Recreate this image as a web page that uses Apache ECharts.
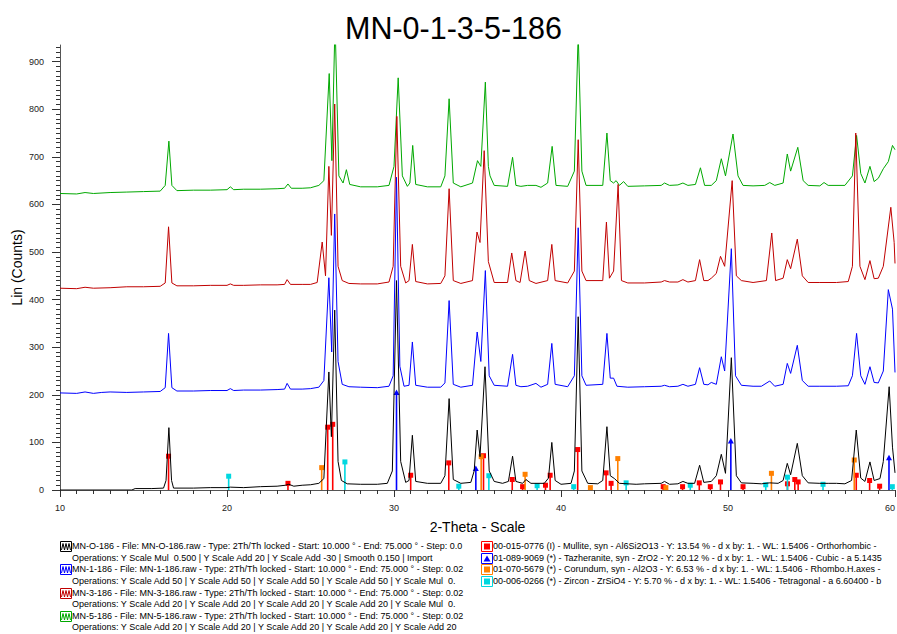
<!DOCTYPE html>
<html>
<head>
<meta charset="utf-8">
<script src="https://cdn.jsdelivr.net/npm/echarts@6/dist/echarts.min.js"></script>
<style>
html,body{margin:0;padding:0;background:#fff;}
#chart{width:897px;height:634px;}
</style>
</head>
<body>
<div id="chart"></div>
<script>
// ---- Data (2-Theta in degrees, Lin counts) ----
const titleText = 'MN-0-1-3-5-186';
const xAxisName = '2-Theta - Scale';
const yAxisName = 'Lin (Counts)';
const xMin = 10, xMax = 60, xStep = 10;
const yMin = 0, yMax = 935, yStep = 100;

const traceMN0 = [[10,0],[14.3,0],[14.5,3],[15.5,3],[16.2,4],[16.35,20],[16.52,131],[16.68,20],[16.8,4],[18,4],[19,5],[20,5],[20.2,6],[21,5],[22,7],[23,8],[23.5,10],[23.7,12],[24,8],[24.5,10],[25,11],[25.5,14],[25.8,24],[26.1,248],[26.25,112],[26.45,378],[26.65,60],[26.85,20],[27.2,13],[28,12],[29,12],[29.6,14],[29.9,40],[30.15,440],[30.4,60],[30.7,16],[30.9,20],[31.1,115],[31.3,18],[32,14],[32.8,14],[33.05,30],[33.3,192],[33.55,22],[34,14],[34.6,16],[34.8,40],[34.98,126],[35.15,70],[35.45,259],[35.7,40],[36.0,18],[36.5,14],[36.85,18],[37.1,71],[37.3,18],[37.7,14],[37.9,22],[38.2,14],[39.0,14],[39.25,25],[39.45,100],[39.65,20],[40.0,12],[40.6,14],[40.8,40],[41.03,364],[41.25,40],[41.6,14],[42.2,13],[42.5,20],[42.75,133],[42.95,30],[43.2,24],[43.5,14],[44.5,12],[45,13],[46,14],[46.2,18],[46.5,12],[47,13],[47.3,18],[47.6,14],[48,14],[48.3,52],[48.55,16],[49,18],[49.3,30],[49.6,75],[49.85,35],[50.2,278],[50.5,30],[50.8,15],[51.5,14],[52,13],[52.5,15],[53,14],[53.3,20],[53.55,56],[53.75,32],[54.15,98],[54.45,30],[54.8,15],[55.5,14],[56,14],[56.5,14],[57,13],[57.4,20],[57.68,126],[57.95,25],[58.2,18],[58.5,59],[58.75,20],[59.1,24],[59.3,60],[59.65,217],[59.85,90],[60,36]];

const traceMN1 = [[10,204],[11,203],[11.5,206],[12,203],[12.5,205],[13,206],[14,205],[15,206],[16,207],[16.3,215],[16.5,329],[16.7,215],[17,208],[18,208],[19,209],[20,209],[20.2,213],[20.4,209],[21,210],[22,210],[23,211],[23.45,212],[23.6,224],[23.8,212],[24.5,212],[25,213],[25.5,216],[25.8,230],[26.1,446],[26.27,290],[26.45,580],[26.65,270],[26.9,222],[27.3,217],[28,216],[29,215],[29.7,218],[29.95,240],[30.15,657],[30.35,260],[30.6,218],[30.9,220],[31.1,311],[31.3,220],[32,216],[32.8,216],[33.05,225],[33.3,398],[33.55,222],[34,216],[34.7,220],[34.98,332],[35.2,270],[35.47,461],[35.7,240],[36,220],[36.8,218],[37.1,285],[37.3,220],[37.6,217],[38.0,218],[38.5,224],[38.8,216],[39.2,222],[39.45,308],[39.65,222],[40.4,217],[40.8,240],[41.03,551],[41.25,240],[41.5,220],[42.5,222],[42.75,329],[42.95,235],[43.15,235],[43.35,218],[44,216],[45,217],[46,218],[46.2,220],[46.5,217],[47,218],[47.3,222],[47.6,218],[48.05,222],[48.3,257],[48.55,222],[48.8,221],[49.0,226],[49.3,222],[49.6,280],[49.8,250],[50.2,507],[50.45,240],[50.8,220],[51.5,218],[52,218],[52.5,229],[52.8,218],[53.3,222],[53.55,266],[53.75,245],[54.15,304],[54.45,230],[54.8,218],[55.5,218],[56.5,218],[57.2,219],[57.45,240],[57.7,329],[57.95,240],[58.2,222],[58.5,259],[58.75,226],[59.0,225],[59.3,250],[59.6,421],[59.85,380],[60,247]];

const traceMN3 = [[10,424],[11,423],[11.5,426],[12,424],[13,425],[14,427],[15,427],[16,428],[16.3,435],[16.5,553],[16.7,435],[17,429],[18,429],[19,430],[20,430],[20.2,433],[20.4,430],[21,430],[22,431],[23,431],[23.45,432],[23.6,442],[23.8,432],[24.5,432],[25,432],[25.4,436],[25.7,521],[25.9,450],[26.1,680],[26.25,535],[26.45,811],[26.65,470],[26.9,440],[27.3,434],[28,433],[29,433],[29.7,437],[29.95,470],[30.17,785],[30.4,470],[30.7,435],[30.9,440],[31.1,516],[31.3,438],[32,433],[32.8,434],[33.05,450],[33.3,633],[33.55,440],[34,434],[34.7,440],[34.97,542],[35.15,520],[35.4,713],[35.65,480],[36,436],[36.8,436],[37.05,498],[37.3,440],[37.55,436],[37.85,502],[38.1,440],[38.5,434],[39.2,440],[39.45,516],[39.65,440],[40.4,435],[40.8,460],[41.03,736],[41.25,460],[41.5,440],[42.5,440],[42.72,563],[42.9,445],[43.15,460],[43.42,642],[43.62,440],[44,435],[45,435],[46,437],[46.2,440],[46.5,437],[47,437],[47.3,442],[47.6,437],[48.05,440],[48.3,484],[48.55,440],[48.8,440],[49.0,445],[49.3,455],[49.55,491],[49.8,470],[50.25,650],[50.5,450],[50.8,440],[51.5,436],[52.3,440],[52.62,540],[52.85,440],[53.3,445],[53.55,484],[53.75,465],[54.15,527],[54.45,450],[54.8,436],[55.5,436],[56.5,436],[57.2,438],[57.45,470],[57.65,750],[57.9,470],[58.2,442],[58.5,482],[58.75,444],[59.0,445],[59.3,470],[59.75,594],[59.95,520],[60,476]];

const traceMN5 = [[10,623],[11,622],[11.5,625],[12,623],[13,625],[14,626],[15,627],[16,628],[16.3,640],[16.52,733],[16.7,640],[17,629],[18,630],[19,630],[20,631],[20.2,637],[20.4,631],[21,632],[22,632],[23,633],[23.45,634],[23.65,643],[23.85,634],[24.5,634],[25,635],[25.5,640],[25.8,650],[26.12,875],[26.28,692],[26.47,985],[26.7,660],[26.95,645],[27.15,673],[27.35,642],[28,637],[29,637],[29.7,640],[30,680],[30.25,866],[30.5,660],[30.8,638],[30.95,645],[31.12,724],[31.3,642],[32,637],[32.8,637],[33.05,660],[33.3,822],[33.55,645],[34,637],[34.7,645],[35.0,692],[35.2,680],[35.47,857],[35.65,680],[35.75,660],[36,640],[36.8,638],[37.1,699],[37.3,640],[37.6,638],[38.0,640],[38.5,640],[38.8,636],[39.2,645],[39.47,722],[39.7,640],[40.4,638],[40.8,670],[41.03,960],[41.25,670],[41.5,640],[42.5,640],[42.75,750],[42.95,650],[43.15,645],[43.3,650],[43.5,640],[43.75,648],[44,638],[45,639],[46,640],[46.2,645],[46.5,640],[47,641],[47.3,645],[47.6,640],[48.05,642],[48.35,677],[48.6,640],[49.0,640],[49.3,650],[49.6,696],[49.85,660],[50.3,748],[50.6,660],[50.9,640],[51.5,639],[52.2,640],[52.5,646],[52.8,640],[53.3,645],[53.55,706],[53.75,670],[54.18,720],[54.5,650],[54.8,640],[55.5,639],[55.75,646],[56,640],[57.0,640],[57.45,660],[57.7,745],[57.95,665],[58.2,645],[58.5,680],[58.75,648],[59.0,655],[59.3,675],[59.6,690],[59.85,724],[60,715]];

// Reference pattern sticks [2-Theta, height]
const sticksMullite = [[16.5,71],[23.65,14],[26.03,132],[26.33,138],[31.0,31],[33.28,57],[35.36,72],[37.08,22],[37.7,7],[39.07,10],[39.35,31],[41.0,85],[42.7,36],[43.0,14],[46.12,7],[47.28,7],[48.28,15],[48.94,7],[49.55,17],[50.9,7],[53.56,13],[54.0,22],[54.2,17],[57.68,31],[58.48,20],[59.08,8]];
const sticksZrO2 = [[30.15,205],[34.9,45],[50.17,103],[59.64,68]];
const sticksCorundum = [[25.67,47],[35.22,70],[37.85,33],[41.76,5],[43.4,66],[46.28,5],[52.6,35],[57.56,63]];
const sticksZircon = [[20.1,29],[27.06,59],[33.88,8],[35.68,30],[38.57,9],[40.76,7],[43.9,15],[47.74,10],[52.26,11],[53.56,27],[55.69,12],[59.84,7]];

const scanNames = ['MN-O-186','MN-1-186','MN-3-186','MN-5-186'];
const legendScanLines = [
  'MN-O-186 - File: MN-O-186.raw - Type: 2Th/Th locked - Start: 10.000 ° - End: 75.000 ° - Step: 0.0',
  'Operations: Y Scale Mul  0.500 | Y Scale Add 20 | Y Scale Add -30 | Smooth 0.150 | Import',
  'MN-1-186 - File: MN-1-186.raw - Type: 2Th/Th locked - Start: 10.000 ° - End: 75.000 ° - Step: 0.02',
  'Operations: Y Scale Add 50 | Y Scale Add 50 | Y Scale Add 50 | Y Scale Add 50 | Y Scale Mul  0.',
  'MN-3-186 - File: MN-3-186.raw - Type: 2Th/Th locked - Start: 10.000 ° - End: 75.000 ° - Step: 0.02',
  'Operations: Y Scale Add 20 | Y Scale Add 20 | Y Scale Add 20 | Y Scale Add 20 | Y Scale Mul  0.',
  'MN-5-186 - File: MN-5-186.raw - Type: 2Th/Th locked - Start: 10.000 ° - End: 75.000 ° - Step: 0.02',
  'Operations: Y Scale Add 20 | Y Scale Add 20 | Y Scale Add 20 | Y Scale Add 20 | Y Scale Add 20'
];
const legendPhaseLines = [
  '00-015-0776 (I) - Mullite, syn - Al6Si2O13 - Y: 13.54 % - d x by: 1. - WL: 1.5406 - Orthorhombic -',
  '01-089-9069 (*) - Tazheranite, syn - ZrO2 - Y: 20.12 % - d x by: 1. - WL: 1.5406 - Cubic - a 5.1435',
  '01-070-5679 (*) - Corundum, syn - Al2O3 - Y: 6.53 % - d x by: 1. - WL: 1.5406 - Rhombo.H.axes -',
  '00-006-0266 (*) - Zircon - ZrSiO4 - Y: 5.70 % - d x by: 1. - WL: 1.5406 - Tetragonal - a 6.60400 - b'
];

// ---- styles ----
const traceColors = ['#000000','#0000ff','#c00000','#00a800'];
const stickColors = ['#ff0000','#0000ff','#ff8000','#00d8e0'];
const FONT = '"Liberation Sans", Arial, sans-serif';

const chart = echarts.init(document.getElementById('chart'), null, {renderer:'svg'});

function stickSeries(name, data, color, shape) {
  return {
    type: 'custom', name: name, data: data, z: 5,
    renderItem: function (params, api) {
      const x = api.value(0), y = api.value(1);
      const top = api.coord([x, y]);
      const bot = api.coord([x, 0]);
      const children = [{
        type: 'line',
        shape: {x1: top[0], y1: bot[1], x2: top[0], y2: top[1]},
        style: {stroke: color, lineWidth: 1.6}
      }];
      if (shape === 'triangle') {
        children.push({type: 'polygon', shape: {points: [[top[0], top[1]-3],[top[0]-3, top[1]+2.5],[top[0]+3, top[1]+2.5]]}, style: {fill: color}});
      } else {
        children.push({type: 'rect', shape: {x: top[0]-2.5, y: top[1]-2.5, width: 5, height: 5}, style: {fill: color}});
      }
      return {type: 'group', children: children};
    }
  };
}

const majorY = [];
for (let v = 0; v <= 900; v += yStep) majorY.push(v);
const minorY = [];
for (let v = 10; v <= 930; v += 10) if (v % 100 !== 0) minorY.push(v);

// legend graphics
const graphics = [];
const leftX = 60, rightX = 481;
const lineYs = [547, 559, 570, 582, 594, 605, 617, 628];
legendScanLines.forEach(function (t, i) {
  graphics.push({type: 'text', left: 72, top: lineYs[i] - 6,
    style: {text: t, font: '9px ' + FONT, fill: '#000'}});
});
scanNames.forEach(function (n, i) {
  const cy = lineYs[i*2];
  const c = traceColors[i];
  graphics.push({type: 'rect', shape: {x: leftX + 0.5, y: cy - 5.5, width: 11, height: 10},
    style: {fill: '#fff', stroke: c, lineWidth: 1}});
  graphics.push({type: 'polyline', shape: {points: [[leftX+1.5, cy+3],[leftX+3, cy-3.5],[leftX+4.5, cy+3],[leftX+6, cy-3.5],[leftX+7.5, cy+3],[leftX+9, cy-3.5],[leftX+10.5, cy+3]]},
    style: {stroke: c, lineWidth: 1, fill: null}});
});
legendPhaseLines.forEach(function (t, i) {
  const cy = lineYs[i] ;
  const c = stickColors[i];
  graphics.push({type: 'text', left: 493, top: cy - 6,
    style: {text: t, font: '9px ' + FONT, fill: '#000'}});
  graphics.push({type: 'rect', shape: {x: rightX + 0.5, y: cy - 5.5, width: 11, height: 10},
    style: {fill: '#fff', stroke: c, lineWidth: 1}});
  if (i === 1) {
    graphics.push({type: 'polygon', shape: {points: [[rightX+6, cy-3.5],[rightX+2.5, cy+2.5],[rightX+9.5, cy+2.5]]}, style: {fill: c}});
  } else {
    graphics.push({type: 'rect', shape: {x: rightX + 3, y: cy - 3.5, width: 6, height: 6}, style: {fill: c}});
  }
});

const lineSeries = [traceMN5, traceMN3, traceMN1, traceMN0].map(function (d, k) {
  const idx = 3 - k;
  return {
    type: 'line', name: scanNames[idx], data: d, showSymbol: false, symbol: 'none',
    lineStyle: {color: traceColors[idx], width: 1}, itemStyle: {color: traceColors[idx]},
    clip: true, z: 2 + k, animation: false
  };
});

const option = {
  animation: false,
  backgroundColor: '#ffffff',
  title: {text: titleText, left: 340, top: 7,
    textStyle: {fontFamily: FONT, fontSize: 30.5, fontWeight: 'normal', color: '#000'}},
  grid: {left: 60, right: 2, top: 45, bottom: 144, outerBoundsMode: 'none'},
  xAxis: {
    type: 'value', min: xMin, max: xMax, interval: xStep,
    name: xAxisName, nameLocation: 'middle', nameGap: 30,
    nameTextStyle: {fontFamily: FONT, fontSize: 14, color: '#000'},
    axisLine: {show: true, lineStyle: {color: '#555', width: 1}},
    axisTick: {show: true, length: 7, lineStyle: {color: '#333'}},
    minorTick: {show: true, splitNumber: 10, length: 4, lineStyle: {color: '#333'}},
    axisLabel: {fontFamily: FONT, fontSize: 9, color: '#222', margin: 13, alignMaxLabel: 'right'},
    splitLine: {show: false}, minorSplitLine: {show: false}
  },
  yAxis: [{
    type: 'value', min: yMin, max: yMax, interval: yStep,
    name: yAxisName, nameLocation: 'middle', nameGap: 36, nameRotate: 90, nameMoveOverlap: false,
    nameTextStyle: {fontFamily: FONT, fontSize: 14, color: '#000'},
    axisLine: {show: true, lineStyle: {color: '#555', width: 1}},
    axisTick: {show: true, length: 8, lineStyle: {color: '#333'}, customValues: majorY},
    axisLabel: {fontFamily: FONT, fontSize: 9, color: '#222', margin: 16, customValues: majorY},
    splitLine: {show: false}
  }, {
    type: 'value', min: yMin, max: yMax, position: 'left',
    axisLine: {show: false},
    axisTick: {show: true, length: 4, lineStyle: {color: '#333'}, customValues: minorY},
    axisLabel: {show: false},
    splitLine: {show: false}
  }],
  series: lineSeries.concat([
    stickSeries('Mullite', sticksMullite, stickColors[0], 'square'),
    stickSeries('Tazheranite', sticksZrO2, stickColors[1], 'triangle'),
    stickSeries('Corundum', sticksCorundum, stickColors[2], 'square'),
    stickSeries('Zircon', sticksZircon, stickColors[3], 'square')
  ]),
  graphic: graphics
};
chart.setOption(option);
</script>
</body>
</html>
